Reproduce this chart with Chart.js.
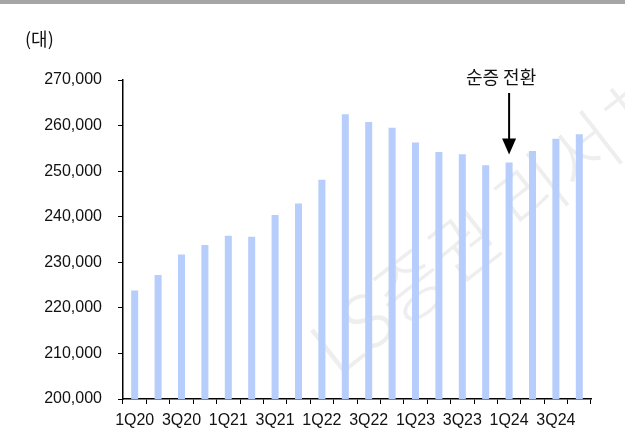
<!DOCTYPE html>
<html>
<head>
<meta charset="utf-8">
<script src="https://cdn.jsdelivr.net/npm/chart.js@4"></script>
<style>
  html, body { margin: 0; padding: 0; background: #fff; }
  #wrap { position: relative; width: 625px; height: 445px; }
  #topbar { position: absolute; left: 0; top: 0; width: 625px; height: 4px; background: #a6a6a6; }
</style>
</head>
<body>
<div id="wrap">
  <div id="topbar"></div>
  <canvas id="c" width="625" height="445"></canvas>
</div>
<script>
let quarters = ["1Q20","2Q20","3Q20","4Q20","1Q21","2Q21","3Q21","4Q21","1Q22","2Q22",
                "3Q22","4Q22","1Q23","2Q23","3Q23","4Q23","1Q24","2Q24","3Q24","4Q24"];
let units = [223800,227200,231700,233800,235800,235600,240400,242900,248100,262500,
             260800,259500,256300,254200,253700,251300,251900,254400,257100,258100];
let yTicks = [200000,210000,220000,230000,240000,250000,260000,270000];
let unitLabel = "(대)";
let noteText = "순증 전환";
let noteAt = "1Q24";
let markText = "LS증권 리서치";

const fontName = "'Liberation Sans', Arial, sans-serif";

// watermark + arrow note
const extras = {
  id: "extras",
  beforeDatasetsDraw(chart) {
    let ctx = chart.ctx;
    ctx.save();
    ctx.translate(492, 222);
    ctx.rotate(-38 * Math.PI / 180);
    ctx.font = "200 74px 'Noto Sans CJK KR'";
    ctx.fillStyle = "#eeeeee";
    ctx.textAlign = "center";
    ctx.textBaseline = "middle";
    ctx.fillText(markText, 0, 0);
    ctx.restore();
  },
  afterDraw(chart) {
    let ctx = chart.ctx;
    let i = quarters.indexOf(noteAt);
    let x = chart.scales.x.getPixelForValue(i);
    let tip = chart.scales.y.getPixelForValue(units[i]) - 8;
    let top = 93;
    ctx.save();
    ctx.strokeStyle = "#000";
    ctx.fillStyle = "#000";
    ctx.lineWidth = 2;
    ctx.beginPath();
    ctx.moveTo(x, top);
    ctx.lineTo(x, tip - 14);
    ctx.stroke();
    ctx.beginPath();
    ctx.moveTo(x - 7, tip - 16);
    ctx.lineTo(x + 7, tip - 16);
    ctx.lineTo(x, tip);
    ctx.closePath();
    ctx.fill();
    ctx.font = "18px 'Noto Sans CJK KR'";
    ctx.textAlign = "center";
    ctx.textBaseline = "middle";
    ctx.fillStyle = "#111";
    ctx.fillText(noteText, x - 8, 77);
    ctx.textAlign = "left";
    ctx.fillText(unitLabel, 25, 39);
    ctx.restore();
  }
};

new Chart(document.getElementById("c"), {
  type: "bar",
  data: {
    labels: quarters,
    datasets: [{
      data: units,
      backgroundColor: "#b7cdfb",
      categoryPercentage: 1,
      barPercentage: 0.3
    }]
  },
  options: {
    responsive: false,
    animation: false,
    layout: { padding: { top: 80, right: 34, left: 0, bottom: 0 } },
    plugins: { legend: { display: false }, tooltip: { enabled: false } },
    scales: {
      x: {
        grid: { offset: true, drawOnChartArea: false, tickLength: 5, color: "#000" },
        border: { color: "#000", width: 1.5 },
        ticks: {
          autoSkip: false, maxRotation: 0, color: "#111", padding: 7,
          font: { family: fontName, size: 16 },
          callback: (v, i) => i % 2 === 0 ? quarters[i] : ""
        },
        afterFit(s) { s.height = 46; }
      },
      y: {
        min: yTicks[0],
        max: yTicks[yTicks.length - 1],
        afterBuildTicks(s) { s.ticks = yTicks.map(v => ({ value: v })); },
        grid: { drawOnChartArea: false, tickLength: 5, color: "#000" },
        border: { color: "#000", width: 1.5 },
        ticks: {
          color: "#111", padding: 16,
          font: { family: fontName, size: 16 },
          callback: v => v.toLocaleString("en-US")
        },
        afterFit(s) { s.width = 123; }
      }
    }
  },
  plugins: [extras]
});
</script>
</body>
</html>
